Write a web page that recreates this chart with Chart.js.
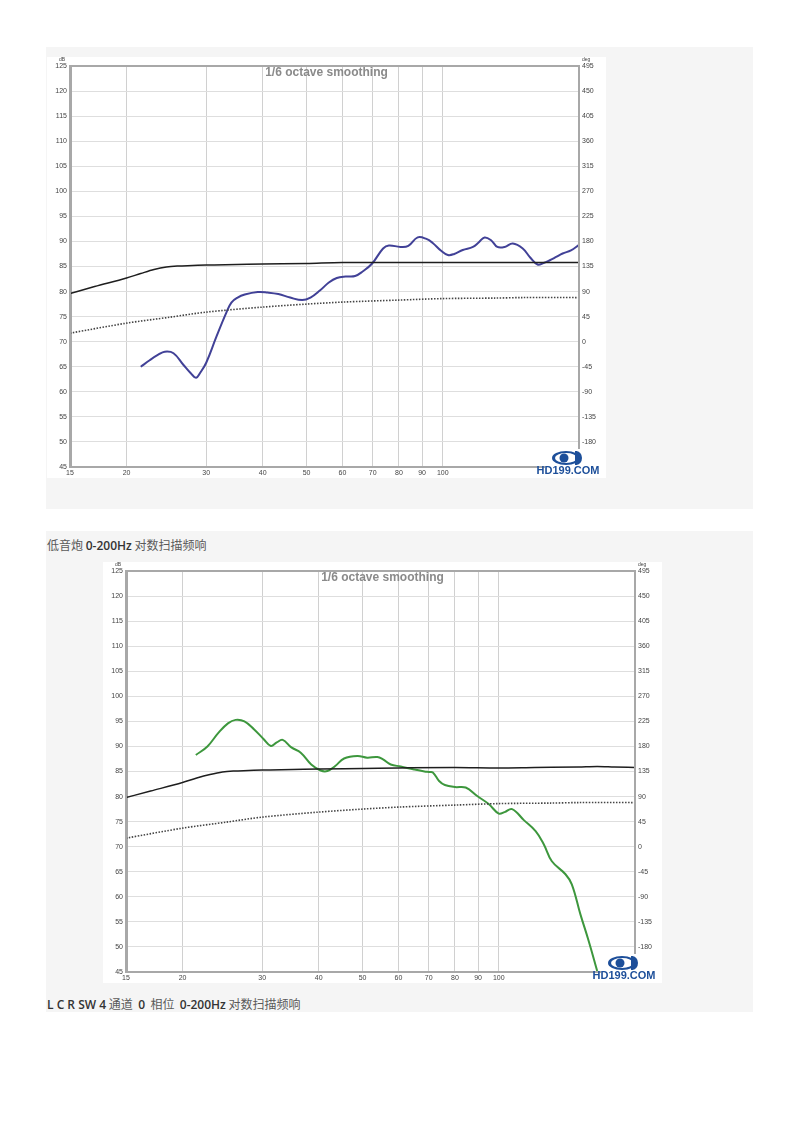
<!DOCTYPE html>
<html>
<head>
<meta charset="utf-8">
<script src="https://cdn.jsdelivr.net/npm/chart.js@4/dist/chart.umd.min.js"></script>
<style>
  body { margin: 0; background: #fff; width: 800px; height: 1132px; position: relative; font-family: "Noto Sans CJK SC", "Noto Sans", sans-serif; }
  .panel { position: absolute; left: 46px; width: 707px; background: #f5f5f5; }
  .box { position: absolute; background: #fff; }
  .cap { position: absolute; left: 47px; font-size: 12px; line-height: 14px; color: #5a5a5a; white-space: pre; }
  .cap b { color: #333; font-weight: 600; font-family: "Open Sans", "Noto Sans", sans-serif; }
</style>
</head>
<body>
<div class="panel" style="top:47px;height:462px"></div>
<div class="panel" style="top:531px;height:481px"></div>
<div class="box" style="left:47px;top:57px;width:559px;height:421px"><canvas id="sub"></canvas></div>
<div class="box" style="left:103px;top:562px;width:559px;height:421px"><canvas id="lcr"></canvas></div>
<div class="cap" style="top:538px">低音炮 <b>0-200Hz</b> 对数扫描频响</div>
<div class="cap" style="top:997px"><b>L C R SW 4</b> 通道  <b>0</b>  相位  <b>0-200Hz</b> 对数扫描频响</div>

<script>
// frequency axis
const xTicks = [15, 20, 30, 40, 50, 60, 70, 80, 90, 100, 200];
const degTicks = [495, 450, 405, 360, 315, 270, 225, 180, 135, 90, 45, 0, -45, -90, -135, -180, -225];

// black solid line
const refFreq = [15, 17, 20, 21.5, 23, 24.5, 26, 28, 30, 35, 40, 50, 60, 80, 100, 120, 150, 165, 180, 200];
const refSub  = [79.6, 81, 82.7, 83.6, 84.4, 84.9, 85.1, 85.2, 85.3, 85.4, 85.5, 85.6, 85.8, 85.8, 85.8, 85.8, 85.8, 85.8, 85.8, 85.8];
const refLcr  = [79.8, 81.1, 82.8, 83.7, 84.4, 84.9, 85.1, 85.2, 85.3, 85.4, 85.5, 85.6, 85.7, 85.8, 85.7, 85.8, 85.9, 86.0, 85.9, 85.8];

// dotted line
const dotFreq = [15, 20, 25, 30, 40, 50, 60, 80, 100, 130, 150, 200];
const dotVals = [71.7, 73.7, 74.9, 75.9, 76.9, 77.5, 77.9, 78.3, 78.6, 78.7, 78.8, 78.8];

// subwoofer response (blue)
const subFreq = [21.5, 22.5, 23.5, 24.3, 25.4, 26.7, 27.8, 28.5, 29.1, 30,
                 31.6, 33.2, 34.1, 35.2, 36.5, 39, 41, 43.3, 46, 48.9,
                 51, 53.5, 56, 58.3, 61, 64, 66.5, 69.8, 73.8, 76,
                 80.6, 83.9, 88, 92, 95, 99, 102.6, 106, 110.7, 116.6,
                 120, 123.7, 128, 132, 137, 142.8, 150.2, 156, 162, 167,
                 172, 178, 184, 192, 200];
const subDb   = [65, 66.3, 67.4, 68, 67.7, 65.4, 63.6, 62.8, 63.8, 65.8,
                 71, 75.7, 77.8, 78.8, 79.4, 79.9, 79.8, 79.5, 78.8, 78.3,
                 78.8, 80.2, 81.8, 82.7, 83, 83.1, 84, 85.6, 88.6, 89.2,
                 88.9, 89.1, 90.8, 90.5, 89.7, 88.2, 87.3, 87.5, 88.3, 88.9,
                 89.8, 90.8, 90.2, 88.9, 88.9, 89.6, 88.6, 86.8, 85.4, 85.7,
                 86.2, 86.9, 87.6, 88.2, 89.3];

// LCR + SW response (green)
const lcrFreq = [21.4, 22.7, 24, 25.2, 26.2, 27.4, 28.8, 30.2, 31.35, 32.3,
                 33.3, 34.8, 36.5, 38.5, 40.4, 41.8, 43.5, 45.5, 48.7, 51.2,
                 53.9, 55.5, 57.7, 60.7, 65, 68.5, 70.1, 71.5, 73.8, 76,
                 80, 84.5, 89.6, 95, 100, 103, 107, 113.6, 120.6, 125.7,
                 131, 140.4, 145, 151.5, 158, 165];
const lcrDb   = [88.3, 90, 92.7, 94.6, 95.3, 95.0, 93.4, 91.5, 90.1, 90.8,
                 91.3, 89.8, 88.75, 86.4, 85.2, 85.1, 86.1, 87.6, 88.1, 87.75,
                 87.9, 87.4, 86.4, 86.0, 85.4, 85.0, 84.9, 84.8, 83.1, 82.3,
                 81.9, 81.8, 80.1, 78.5, 76.6, 76.9, 77.5, 75.3, 73.1, 70.5,
                 67.1, 64.5, 62.5, 56.5, 51.2, 45.2];

const pts = (xs, ys) => xs.map((x, i) => ({ x: x, y: ys[i] }));

const decor = {
  id: "decor",
  afterDraw(chart) {
    const ctx = chart.ctx;
    const a = chart.chartArea;
    ctx.save();
    // frame
    ctx.strokeStyle = "#a8a8a8";
    ctx.lineWidth = 2;
    ctx.strokeRect(a.left, a.top, a.right - a.left, a.bottom - a.top);
    // title
    ctx.fillStyle = "#8a8a8a";
    ctx.font = "bold 12px Arial, 'Liberation Sans', sans-serif";
    ctx.textAlign = "center";
    ctx.textBaseline = "middle";
    ctx.fillText("1/6 octave smoothing", (a.left + a.right) / 2 + 2, a.top + 7);
    // units
    ctx.fillStyle = "#444";
    ctx.font = "5px Arial, sans-serif";
    ctx.textAlign = "right";
    ctx.fillText("dB", a.left - 5, a.top - 6);
    ctx.textAlign = "left";
    ctx.fillText("deg", a.right + 3, a.top - 6);
    // logo
    const cx = a.right - 13, cy = a.bottom - 9;
    ctx.fillStyle = "#fff";
    ctx.fillRect(a.right - 34, a.bottom - 18, 58, 28);
    ctx.fillStyle = "#1d4f9a";
    ctx.beginPath();
    ctx.ellipse(cx, cy, 14, 7, 0, 0, Math.PI * 2);
    ctx.fill();
    ctx.fillStyle = "#fff";
    ctx.beginPath();
    ctx.ellipse(cx, cy, 11, 5, 0, 0, Math.PI * 2);
    ctx.fill();
    ctx.fillStyle = "#1d4f9a";
    ctx.beginPath();
    ctx.arc(cx - 2, cy, 4.5, 0, Math.PI * 2);
    ctx.fill();
    ctx.beginPath();
    ctx.ellipse(cx + 10, cy, 6, 7, 0, -Math.PI / 2, Math.PI / 2);
    ctx.fill();
    ctx.fillRect(cx + 9, cy - 7, 2, 14);
    ctx.font = "bold 11px Arial, 'Liberation Sans', sans-serif";
    ctx.textAlign = "center";
    ctx.textBaseline = "alphabetic";
    ctx.fillText("HD199.COM", cx + 2, a.bottom + 7);
    ctx.restore();
  }
};

function makeChart(id, mainFreq, mainDb, mainColor, refVals) {
  new Chart(document.getElementById(id), {
    type: "line",
    data: {
      datasets: [
        { data: pts(dotFreq, dotVals), borderColor: "#444", borderWidth: 1.6, borderDash: [1.5, 1.5], pointRadius: 0, tension: 0.3 },
        { data: pts(refFreq, refVals), borderColor: "#1e1e1e", borderWidth: 1.5, pointRadius: 0, cubicInterpolationMode: "monotone" },
        { data: pts(mainFreq, mainDb), borderColor: mainColor, borderWidth: 2, pointRadius: 0, tension: 0.4 }
      ]
    },
    options: {
      responsive: false,
      animation: false,
      layout: { padding: { top: 9, left: 0, right: 0, bottom: 0 } },
      plugins: { legend: { display: false }, tooltip: { enabled: false } },
      scales: {
        x: {
          type: "logarithmic",
          min: 15,
          max: 200,
          afterBuildTicks: (s) => { s.ticks = xTicks.map((v) => ({ value: v })); },
          afterFit: (s) => { s.height = 11; },
          ticks: {
            autoSkip: false, maxRotation: 0, padding: 2,
            color: "#444", font: { size: 7, family: "Arial" },
            callback: (v) => (v === 200 ? "" : String(v))
          },
          grid: { color: "#d0d0d0", drawTicks: false },
          border: { color: "#a8a8a8", width: 2 }
        },
        y: {
          position: "left",
          min: 45,
          max: 125,
          afterFit: (s) => { s.width = 23; },
          ticks: { stepSize: 5, padding: 3, color: "#444", font: { size: 7, family: "Arial" } },
          grid: { color: "#dedede", drawTicks: false },
          border: { color: "#a8a8a8", width: 3 }
        },
        y2: {
          position: "right",
          min: -225,
          max: 495,
          afterBuildTicks: (s) => { s.ticks = degTicks.map((v) => ({ value: v })); },
          afterFit: (s) => { s.width = 27; },
          ticks: {
            padding: 3, color: "#444", font: { size: 7, family: "Arial" },
            callback: (v) => (v === -225 ? "" : String(v))
          },
          grid: { display: false, drawTicks: false },
          border: { color: "#a8a8a8", width: 2 }
        }
      }
    },
    plugins: [decor]
  });
}

document.getElementById("sub").width = 559;
document.getElementById("sub").height = 421;
document.getElementById("lcr").width = 559;
document.getElementById("lcr").height = 421;

makeChart("sub", subFreq, subDb, "#414197", refSub);
makeChart("lcr", lcrFreq, lcrDb, "#3d973d", refLcr);
</script>
</body>
</html>
